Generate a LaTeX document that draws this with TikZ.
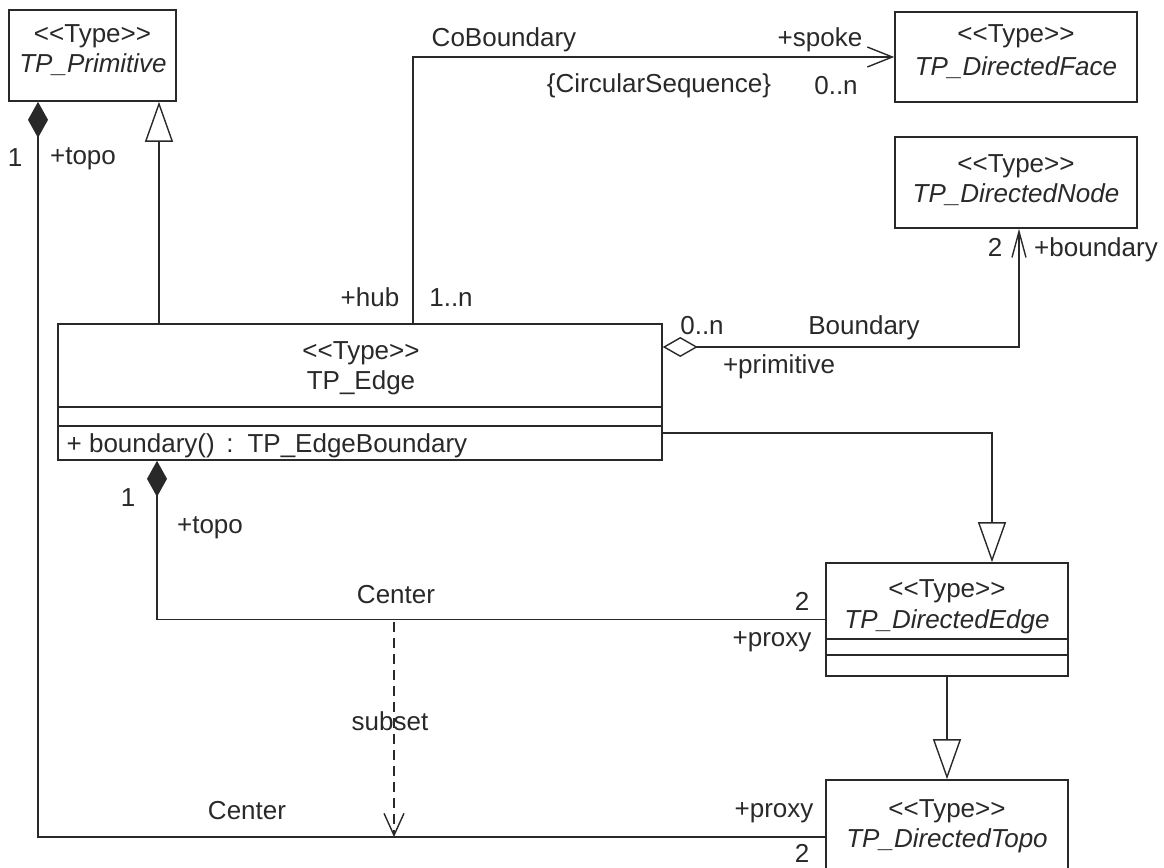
\documentclass[tikz,border=0pt]{standalone}
\usepackage{fontspec}
\setmainfont{Liberation Sans}[Ligatures=TeXOff]
\usetikzlibrary{arrows.meta}
\definecolor{ink}{rgb}{0.16,0.16,0.16}

\begin{document}
\begin{tikzpicture}[x=0.5pt,y=-0.5pt,line width=0.7pt,color=ink,
  font=\fontsize{13}{15}\selectfont,
  box/.style={draw,line width=0.8pt,rectangle,inner sep=0pt},
  lbl/.style={inner sep=0pt,text height=9.3pt,text depth=0pt},
  gen/.style={-{Triangle[open,length=20pt,width=14pt]}},
  nav/.style={-{Straight Barb[length=12.5pt,width=10pt]}},
  comp/.style={{Diamond[length=18pt,width=10pt]}-},
  aggrnav/.style={{Diamond[open,length=17.5pt,width=10pt]}-{Straight Barb[length=13pt,width=7pt]}},
]
\useasboundingbox (0,0) rectangle (1164,868);
\clip (0,0) rectangle (1164,868);

% ---- classes ----
\node[box,minimum width=83.5pt,minimum height=45.5pt] (prim)  at (92.5,55.5) {};
\node[box,minimum width=121pt,minimum height=45pt]    (face)  at (1016,57) {};
\node[box,minimum width=121pt,minimum height=45.5pt]  (dnode) at (1016,182.5) {};
\node[box,minimum width=302pt,minimum height=68pt]    (edge)  at (360,392) {};
\node[box,minimum width=121pt,minimum height=56.5pt]  (dedge) at (947,619.5) {};
\node[box,minimum width=121pt,minimum height=57pt]    (topo)  at (947,837) {};

% compartments
\draw[line width=0.8pt] (58,407) -- (662,407);
\draw[line width=0.8pt] (58,426) -- (662,426);
\draw[line width=0.8pt] (826,639) -- (1068,639);
\draw[line width=0.8pt] (826,655) -- (1068,655);

% class texts
\node[lbl] (primS) at (92.5,33) {<<Type>>};
\node[lbl] (primN) at (93,63) {\itshape TP\_Primitive};
\node[lbl] (faceS) at (1016,33) {<<Type>>};
\node[lbl] (faceN) at (1016,66) {\itshape TP\_DirectedFace};
\node[lbl] (dnodeS) at (1016,163) {<<Type>>};
\node[lbl] (dnodeN) at (1016,193) {\itshape TP\_DirectedNode};
\node[lbl] (edgeS) at (361,350) {<<Type>>};
\node[lbl] (edgeN) at (361,380) {TP\_Edge};
\node[lbl,anchor=west] (edgeOp) at (66,443) {+ boundary() \,:\, TP\_EdgeBoundary};
\node[lbl] (dedgeS) at (947,588) {<<Type>>};
\node[lbl] (dedgeN) at (947,619) {\itshape TP\_DirectedEdge};
\node[lbl] (topoS) at (947,808) {<<Type>>};
\node[lbl] (topoN) at (947,838) {\itshape TP\_DirectedTopo};

% ---- bend points ----
\coordinate (g1)  at (159,0);
\coordinate (c1)  at (38,0);
\coordinate (h1)  at (413,0);
\coordinate (bnd) at (1019,347);
\coordinate (g2)  at (992,433);
\coordinate (c2)  at (157,0);
\coordinate (sTop) at (394,622);
\coordinate (sBot) at (394,837);

% ---- connectors ----
\draw[gen] (edge.north -| g1) -- (prim.south -| g1);
\draw[comp] (prim.south -| c1) |- (topo.west);
\draw[nav] (edge.north -| h1) |- (face.west);
\draw[aggrnav] (edge.east |- bnd) -| (dnode.south -| bnd);
\draw[gen] (edge.east |- g2) -| (dedge.north -| g2);
\draw[gen] (dedge.south) -- (topo.north);
\draw[comp] (edge.south -| c2) |- (dedge.west);
\draw[dash pattern=on 5pt off 3pt,-{Straight Barb[length=11pt,width=10pt]}] (sTop) -- (sBot);

% ---- labels ----
\node[lbl] (l1)  at (15,157) {1};
\node[lbl] (l2)  at (83,155) {+topo};
\node[lbl] (l3)  at (370,297) {+hub};
\node[lbl] (l4)  at (451,297) {1..n};
\node[lbl] (l5)  at (504,37) {CoBoundary};
\node[lbl] (l6)  at (820,37) {+spoke};
\node[lbl] (l7)  at (659,83) {\{CircularSequence\}};
\node[lbl] (l8)  at (836,85) {0..n};
\node[lbl] (l9)  at (995,247) {2};
\node[lbl] (l10) at (1096,247) {+boundary};
\node[lbl] (l11) at (702,325) {0..n};
\node[lbl] (l12) at (864,325) {Boundary};
\node[lbl] (l13) at (779,364) {+primitive};
\node[lbl] (l14) at (128,497) {1};
\node[lbl] (l15) at (210,524) {+topo};
\node[lbl] (l16) at (396,594) {Center};
\node[lbl] (l17) at (802,601) {2};
\node[lbl] (l18) at (772,637) {+proxy};
\node[lbl] (l19) at (390,721) {subset};
\node[lbl] (l20) at (247,810) {Center};
\node[lbl] (l21) at (774,808) {+proxy};
\node[lbl] (l22) at (802,853) {2};
\end{tikzpicture}
\end{document}
